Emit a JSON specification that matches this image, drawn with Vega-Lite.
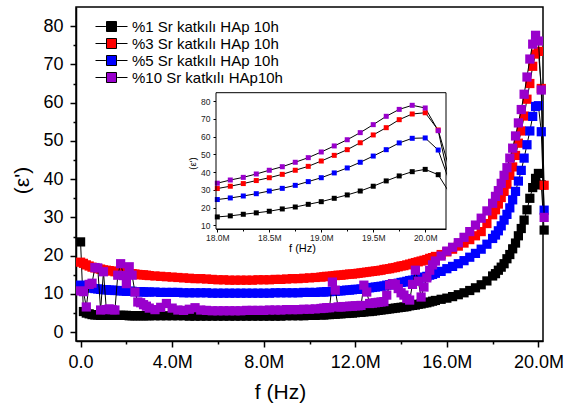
{
"$schema": "https://vega.github.io/schema/vega-lite/v6.json",
"width": 467, "height": 334,
"autosize": "none",
"padding": {"left": 76, "top": 7, "right": 22, "bottom": 62},
"config": {
  "font": "Liberation Sans",
  "view": {"stroke": "black", "strokeWidth": 1.5},
  "axis": {"grid": false, "labelColor": "black", "titleColor": "black", "tickColor": "black", "domainColor": "black", "titleFontWeight": "normal", "labelFlush": false, "labelOverlap": false},
  "legend": {"orient": "none", "legendX": 27, "legendY": 11, "padding": 0, "labelFontSize": 15, "labelColor": "black", "labelOffset": 12, "rowPadding": 0, "labelLimit": 300, "symbolStrokeColor": "black", "symbolStrokeWidth": 1}
},
"datasets": {"pts": [
{"f":0,"a":23.6,"b":18.3,"c":12.3,"d":10.8},
{"f":0.125,"a":5.4,"b":18.0,"c":12.1,"d":10.6},
{"f":0.25,"a":5.0,"b":17.6,"c":11.9,"d":6.6},
{"f":0.375,"a":4.8,"b":17.3,"c":11.7,"d":12.5},
{"f":0.5,"a":4.6,"b":17.0,"c":11.5,"d":12.8},
{"f":0.625,"a":4.5,"b":16.8,"c":11.4,"d":16.9},
{"f":0.75,"a":4.5,"b":16.6,"c":11.3,"d":16.8},
{"f":0.875,"a":4.4,"b":16.5,"c":11.2,"d":5.8},
{"f":1.0,"a":4.4,"b":16.3,"c":11.1,"d":15.8},
{"f":1.125,"a":4.4,"b":16.2,"c":11.1,"d":5.9},
{"f":1.25,"a":4.4,"b":16.1,"c":11.0,"d":6.1},
{"f":1.375,"a":4.4,"b":16.0,"c":11.0,"d":5.9},
{"f":1.5,"a":4.4,"b":15.8,"c":10.9,"d":5.8},
{"f":1.625,"a":4.4,"b":15.7,"c":10.9,"d":14.9},
{"f":1.75,"a":4.4,"b":15.6,"c":10.8,"d":17.9},
{"f":1.875,"a":4.4,"b":15.5,"c":10.8,"d":14.8},
{"f":2.0,"a":4.4,"b":15.4,"c":10.7,"d":12.7},
{"f":2.125,"a":4.3,"b":15.3,"c":10.7,"d":17.1},
{"f":2.25,"a":4.3,"b":15.3,"c":10.7,"d":14.9},
{"f":2.375,"a":4.3,"b":15.2,"c":10.6,"d":10.5},
{"f":2.5,"a":4.3,"b":15.1,"c":10.6,"d":7.9},
{"f":2.625,"a":4.3,"b":15.0,"c":10.6,"d":7.7},
{"f":2.75,"a":4.3,"b":15.0,"c":10.5,"d":7.2},
{"f":2.875,"a":4.3,"b":14.9,"c":10.5,"d":6.8},
{"f":3.0,"a":4.3,"b":14.8,"c":10.5,"d":6.3},
{"f":3.25,"a":4.3,"b":14.7,"c":10.5,"d":5.9},
{"f":3.5,"a":4.3,"b":14.6,"c":10.4,"d":6.5},
{"f":3.75,"a":4.3,"b":14.5,"c":10.4,"d":7.5},
{"f":4.0,"a":4.3,"b":14.4,"c":10.4,"d":6.3},
{"f":4.25,"a":4.3,"b":14.3,"c":10.4,"d":5.8},
{"f":4.5,"a":4.3,"b":14.2,"c":10.3,"d":5.7},
{"f":4.75,"a":4.2,"b":14.1,"c":10.3,"d":6.0},
{"f":5.0,"a":4.2,"b":14.0,"c":10.3,"d":6.4},
{"f":5.25,"a":4.2,"b":14.0,"c":10.3,"d":5.8},
{"f":5.5,"a":4.2,"b":13.9,"c":10.3,"d":5.7},
{"f":5.75,"a":4.2,"b":13.8,"c":10.2,"d":5.6},
{"f":6.0,"a":4.2,"b":13.7,"c":10.2,"d":5.6},
{"f":6.25,"a":4.2,"b":13.7,"c":10.2,"d":5.6},
{"f":6.5,"a":4.2,"b":13.6,"c":10.2,"d":5.6},
{"f":6.75,"a":4.2,"b":13.6,"c":10.2,"d":5.6},
{"f":7.0,"a":4.2,"b":13.6,"c":10.2,"d":5.6},
{"f":7.25,"a":4.2,"b":13.6,"c":10.2,"d":5.7},
{"f":7.5,"a":4.2,"b":13.6,"c":10.2,"d":5.7},
{"f":7.75,"a":4.2,"b":13.7,"c":10.2,"d":5.7},
{"f":8.0,"a":4.2,"b":13.7,"c":10.2,"d":5.7},
{"f":8.25,"a":4.2,"b":13.7,"c":10.2,"d":5.8},
{"f":8.5,"a":4.2,"b":13.8,"c":10.3,"d":5.8},
{"f":8.75,"a":4.2,"b":13.8,"c":10.3,"d":5.8},
{"f":9.0,"a":4.3,"b":13.9,"c":10.3,"d":5.9},
{"f":9.25,"a":4.3,"b":14.0,"c":10.3,"d":5.9},
{"f":9.5,"a":4.3,"b":14.0,"c":10.3,"d":5.9},
{"f":9.75,"a":4.3,"b":14.1,"c":10.4,"d":6.0},
{"f":10.0,"a":4.4,"b":14.2,"c":10.4,"d":6.0},
{"f":10.25,"a":4.4,"b":14.3,"c":10.4,"d":6.1},
{"f":10.5,"a":4.5,"b":14.4,"c":10.5,"d":6.2},
{"f":10.625,"a":4.5,"b":14.5,"c":10.5,"d":6.3},
{"f":10.75,"a":4.6,"b":14.6,"c":10.6,"d":6.4},
{"f":10.875,"a":4.6,"b":14.6,"c":10.6,"d":6.4},
{"f":11.0,"a":4.7,"b":14.7,"c":10.7,"d":13.1},
{"f":11.125,"a":4.7,"b":14.8,"c":10.7,"d":11.0},
{"f":11.25,"a":4.8,"b":14.9,"c":10.8,"d":6.6},
{"f":11.375,"a":4.8,"b":14.9,"c":10.8,"d":6.6},
{"f":11.5,"a":4.9,"b":15.0,"c":10.9,"d":6.7},
{"f":11.625,"a":4.9,"b":15.1,"c":11.0,"d":6.7},
{"f":11.75,"a":5.0,"b":15.2,"c":11.0,"d":6.8},
{"f":11.875,"a":5.0,"b":15.2,"c":11.1,"d":6.8},
{"f":12.0,"a":5.1,"b":15.3,"c":11.2,"d":6.9},
{"f":12.125,"a":5.2,"b":15.4,"c":11.2,"d":6.9},
{"f":12.25,"a":5.2,"b":15.5,"c":11.3,"d":7.0},
{"f":12.375,"a":5.3,"b":15.6,"c":11.4,"d":12.3},
{"f":12.5,"a":5.4,"b":15.7,"c":11.5,"d":10.5},
{"f":12.625,"a":5.4,"b":15.8,"c":11.6,"d":7.5},
{"f":12.75,"a":5.5,"b":15.9,"c":11.7,"d":7.6},
{"f":12.875,"a":5.6,"b":16.0,"c":11.8,"d":7.7},
{"f":13.0,"a":5.7,"b":16.1,"c":11.9,"d":7.8},
{"f":13.125,"a":5.8,"b":16.2,"c":12.0,"d":7.9},
{"f":13.25,"a":5.9,"b":16.4,"c":12.1,"d":8.0},
{"f":13.375,"a":6.0,"b":16.5,"c":12.3,"d":9.7},
{"f":13.5,"a":6.1,"b":16.6,"c":12.4,"d":12.3},
{"f":13.625,"a":6.2,"b":16.8,"c":12.5,"d":12.7},
{"f":13.75,"a":6.3,"b":16.9,"c":12.7,"d":12.5},
{"f":13.875,"a":6.4,"b":17.1,"c":12.8,"d":11.4},
{"f":14.0,"a":6.5,"b":17.3,"c":13.0,"d":10.3},
{"f":14.125,"a":6.6,"b":17.4,"c":13.1,"d":9.7},
{"f":14.25,"a":6.7,"b":17.6,"c":13.3,"d":8.8},
{"f":14.375,"a":6.9,"b":17.8,"c":13.5,"d":8.4},
{"f":14.5,"a":7.0,"b":18.0,"c":13.6,"d":12.5},
{"f":14.625,"a":7.1,"b":18.2,"c":13.8,"d":16.2},
{"f":14.75,"a":7.3,"b":18.4,"c":14.0,"d":13.3},
{"f":14.875,"a":7.4,"b":18.6,"c":14.2,"d":9.2},
{"f":15.0,"a":7.6,"b":18.8,"c":14.4,"d":11.8},
{"f":15.125,"a":7.7,"b":19.0,"c":14.6,"d":14.2},
{"f":15.25,"a":7.9,"b":19.3,"c":14.9,"d":16.2},
{"f":15.375,"a":8.1,"b":19.5,"c":15.1,"d":17.6},
{"f":15.5,"a":8.3,"b":19.8,"c":15.4,"d":18.6},
{"f":15.75,"a":8.6,"b":20.3,"c":15.9,"d":19.9},
{"f":16.0,"a":8.9,"b":21.0,"c":16.6,"d":21.2},
{"f":16.25,"a":9.3,"b":21.7,"c":17.2,"d":22.2},
{"f":16.5,"a":9.8,"b":22.5,"c":17.9,"d":23.4},
{"f":16.75,"a":10.3,"b":23.3,"c":18.7,"d":24.8},
{"f":17.0,"a":10.9,"b":24.2,"c":19.6,"d":26.3},
{"f":17.25,"a":11.6,"b":25.2,"c":20.6,"d":28.0},
{"f":17.5,"a":12.4,"b":26.3,"c":21.7,"d":29.8},
{"f":17.75,"a":13.4,"b":28.4,"c":23.0,"d":31.7},
{"f":18.0,"a":14.7,"b":30.7,"c":24.5,"d":33.7},
{"f":18.125,"a":15.3,"b":32.0,"c":25.4,"d":35.5},
{"f":18.25,"a":16.2,"b":33.5,"c":26.5,"d":37.0},
{"f":18.375,"a":17.0,"b":35.2,"c":27.8,"d":38.9},
{"f":18.5,"a":17.9,"b":36.8,"c":29.3,"d":41.0},
{"f":18.625,"a":19.2,"b":38.7,"c":30.8,"d":43.0},
{"f":18.75,"a":20.3,"b":41.0,"c":32.5,"d":45.5},
{"f":18.875,"a":21.8,"b":43.2,"c":34.6,"d":48.1},
{"f":19.0,"a":23.3,"b":46.2,"c":36.8,"d":51.3},
{"f":19.125,"a":25.2,"b":49.4,"c":39.5,"d":54.7},
{"f":19.25,"a":27.1,"b":52.6,"c":42.3,"d":58.2},
{"f":19.375,"a":29.3,"b":56.5,"c":45.5,"d":62.2},
{"f":19.5,"a":32.0,"b":60.9,"c":49.0,"d":66.7},
{"f":19.625,"a":35.0,"b":65.0,"c":52.6,"d":71.4},
{"f":19.75,"a":37.8,"b":69.5,"c":56.4,"d":75.3},
{"f":19.875,"a":40.2,"b":72.7,"c":59.0,"d":77.6},
{"f":20.0,"a":41.5,"b":73.4,"c":59.2,"d":76.1},
{"f":20.125,"a":38.5,"b":63.7,"c":52.4,"d":63.3},
{"f":20.25,"a":26.7,"b":38.4,"c":31.9,"d":30.0}
]},
"data": {"name": "pts"},
"transform": [{"fold": ["a", "b", "c", "d"], "as": ["s", "e"]}],
"layer": [
  {
    "encoding": {
      "x": {"field": "f", "type": "quantitative",
        "scale": {"domain": [-0.2, 20.2], "nice": false, "zero": false},
        "axis": {"values": [0,2,4,6,8,10,12,14,16,18,20],
          "labelExpr": "datum.value % 4 === 0 ? (datum.value === 0 ? '0.0' : format(datum.value, '.1f') + 'M') : ''",
          "tickSize": {"condition": {"test": "datum.value % 4 === 0", "value": 6}, "value": 3},
          "tickWidth": 1.5, "domainWidth": 1.5,
          "labelFontSize": 18, "labelPadding": 6,
          "title": "f (Hz)", "titleFontSize": 21, "titleX": 204, "titlePadding": 10}},
      "y": {"field": "e", "type": "quantitative",
        "scale": {"domain": [-2.3, 85], "nice": false, "zero": false},
        "axis": {"values": [0,5,10,15,20,25,30,35,40,45,50,55,60,65,70,75,80],
          "labelExpr": "datum.value % 10 === 0 ? datum.label : ''",
          "tickSize": {"condition": {"test": "datum.value % 10 === 0", "value": 6}, "value": 3},
          "tickWidth": 1.5, "domainWidth": 1.5,
          "labelFontSize": 18, "labelPadding": 7,
          "title": "(ε')", "titleFontSize": 21, "titleY": 173, "titlePadding": 10}}
    },
    "layer": [
      {"transform": [{"filter": "datum.s != 'd'"}],
       "mark": {"type": "line", "color": "black", "strokeWidth": 1},
       "encoding": {"detail": {"field": "s"}}},
      {"transform": [{"filter": "datum.s != 'd'"}],
       "mark": {"type": "point", "shape": "square", "filled": true, "size": 85, "opacity": 1},
       "encoding": {
         "color": {"field": "s", "type": "nominal", "title": null,
           "scale": {"domain": ["a", "b", "c", "d"], "range": ["#000000", "#FF0000", "#0000FF", "#9900CC"]},
           "legend": {"symbolType": "M-2,0H-0.7M0.7,0H2M-0.625,-0.625H0.625V0.625H-0.625Z", "symbolSize": 256,
             "labelExpr": "datum.label == 'a' ? '%1 Sr katkılı HAp 10h' : datum.label == 'b' ? '%3 Sr katkılı HAp 10h' : datum.label == 'c' ? '%5 Sr katkılı HAp 10h' : '%10 Sr katkılı HAp10h'"}},
         "order": {"field": "s"}}},
      {"transform": [{"filter": "datum.s == 'd'"}],
       "mark": {"type": "line", "color": "black", "strokeWidth": 1},
       "encoding": {"detail": {"field": "s"}}},
      {"transform": [{"filter": "datum.s == 'd'"}],
       "mark": {"type": "point", "shape": "square", "filled": true, "size": 85, "opacity": 1},
       "encoding": {"color": {"field": "s", "type": "nominal", "title": null}}}
    ]
  },
  {
    "transform": [{"filter": "datum.f >= 18"}],
    "layer": [
      {"transform": [{"aggregate": [{"op": "count", "as": "n"}]}],
       "mark": {"type": "rect", "fill": "white", "strokeWidth": 0},
       "encoding": {
         "x": {"datum": 17.9875, "type": "quantitative", "scale": {"domain": [17.9875, 20.2], "range": [140, 370], "nice": false, "zero": false}},
         "x2": {"datum": 20.2},
         "y": {"datum": 7.9, "type": "quantitative", "scale": {"domain": [7.9, 84.7], "range": [222, 85.7], "nice": false, "zero": false}},
         "y2": {"datum": 84.7}}},
      {"mark": {"type": "line", "color": "black", "strokeWidth": 1},
       "encoding": {
         "x": {"field": "f", "type": "quantitative",
           "scale": {"domain": [17.9875, 20.2], "range": [140, 370], "nice": false, "zero": false},
           "axis": {"orient": "bottom", "offset": -112,
             "values": [18, 18.25, 18.5, 18.75, 19, 19.25, 19.5, 19.75, 20],
             "labelExpr": "datum.value % 0.5 === 0 ? format(datum.value, '.1f') + 'M' : ''",
             "tickSize": {"condition": {"test": "datum.value % 0.5 === 0", "value": 3}, "value": 2},
             "labelFontSize": 8.5, "labelPadding": 1, "labelColor": "#222222",
             "title": "f (Hz)", "titleFontSize": 11, "titleX": 226, "titlePadding": 1}},
         "y": {"field": "e", "type": "quantitative",
           "scale": {"domain": [7.9, 84.7], "range": [222, 85.7], "nice": false, "zero": false},
           "axis": {"orient": "left", "offset": -140,
             "values": [10,15,20,25,30,35,40,45,50,55,60,65,70,75,80],
             "labelExpr": "datum.value % 10 === 0 ? datum.label : ''",
             "tickSize": {"condition": {"test": "datum.value % 10 === 0", "value": 3}, "value": 1.5},
             "labelFontSize": 8.5, "labelPadding": 3, "labelColor": "#222222",
             "title": "(ε')", "titleFontSize": 9.5, "titleY": 156, "titlePadding": 3}},
         "detail": {"field": "s"}}},
      {"mark": {"type": "point", "shape": "square", "filled": true, "size": 25, "opacity": 1},
       "encoding": {
         "x": {"field": "f", "type": "quantitative"},
         "y": {"field": "e", "type": "quantitative"},
         "color": {"field": "s", "type": "nominal", "title": null}}},
      {"transform": [{"aggregate": [{"op": "count", "as": "n"}]}],
       "mark": {"type": "rect", "fill": "white", "strokeWidth": 0},
       "encoding": {"x": {"datum": 20.21}, "x2": {"datum": 20.32}, "y": {"datum": 7.9}, "y2": {"datum": 84.7}}},
      {"transform": [{"aggregate": [{"op": "count", "as": "n"}]}],
       "mark": {"type": "rect", "filled": false, "stroke": "black", "strokeWidth": 1},
       "encoding": {"x": {"datum": 17.9875}, "x2": {"datum": 20.2}, "y": {"datum": 7.9}, "y2": {"datum": 84.7}}}
    ]
  }
],
"resolve": {"scale": {"x": "independent", "y": "independent"}, "axis": {"x": "independent", "y": "independent"}}
}
